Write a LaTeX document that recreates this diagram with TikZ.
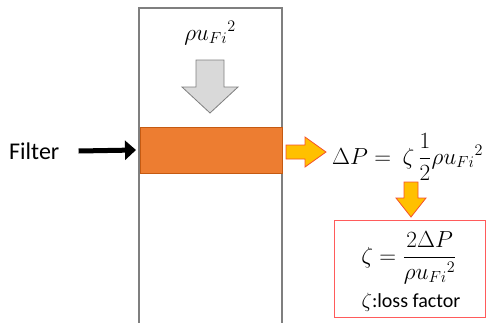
\documentclass[tikz,border=0pt]{standalone}
\usepackage{amsmath}
\usepackage{graphicx}
\usepackage{fontspec}
\setmainfont{Carlito}
\usetikzlibrary{arrows.meta}
\definecolor{chan}{HTML}{7F7F7F}
\definecolor{filt}{HTML}{ED7D31}
\definecolor{filtb}{HTML}{C55A11}
\definecolor{gold}{HTML}{FFC000}
\definecolor{goldb}{HTML}{F4512C}
\definecolor{grayf}{HTML}{D9D9D9}
\definecolor{boxr}{HTML}{FF5B5B}
\newcommand{\mathup}[1]{\scalebox{1.12}{#1}}
\tikzset{
  chanline/.style={draw=chan,line width=1.6pt},
  filterbox/.style={rectangle,fill=filt,draw=filtb,line width=0.6pt,minimum width=142pt,minimum height=46pt,inner sep=0pt},
  grayarrow/.style={fill=grayf,draw=chan,line width=0.8pt},
  goldarrow/.style={fill=gold,draw=goldb,line width=0.8pt},
  resultbox/.style={rectangle,draw=boxr,line width=1pt,minimum width=151pt,minimum height=97pt,inner sep=0pt},
  lbl/.style={inner sep=0pt,font=\fontsize{24}{28}\selectfont},
  mathlbl/.style={inner sep=0pt,font=\fontsize{20}{24}\selectfont}
}
\begin{document}
\begin{tikzpicture}[x=1pt,y=-1pt]
\useasboundingbox (0,0) rectangle (486,322);
% channel
\draw[chanline] (139,323) -- (139,8) -- (282,8) -- (282,323);
% filter
\node[filterbox] (filter) at (211,150) {};
% top label
\node[mathlbl] (flow) at (210,33) {\mathup{$\rho {u_{Fi}}^{2}$}};
% gray down arrow
\draw[grayarrow] (196,60) -- (224,60) -- (224,87) -- (238,87) -- (210,113) -- (182,87) -- (196,87) -- cycle;
% Filter label
\node[lbl,anchor=west] (flabel) at (9,151) {Filter};
\draw[line width=5pt,-{Triangle[length=11pt,width=19pt]}] (flabel.east) ++(19,0) coordinate (fa) (fa) -- (filter.west -| 136,0);
% orange right arrow
\draw[goldarrow] (286,145) -- (305,145) -- (305,137) -- (326,152) -- (305,167) -- (305,159) -- (286,159) -- cycle;
% equation
\node[mathlbl,anchor=west] (eq) at (332,157) {\mathup{$\Delta P =\ \zeta\,\dfrac{1}{2}\rho {u_{Fi}}^{2}$}};
% orange down arrow
\draw[goldarrow] (404,182) -- (418,182) -- (418,198) -- (426,198) -- (411,217) -- (396,198) -- (404,198) -- cycle;
% result box
\node[resultbox] (res) at (409.5,268.5) {};
\node[mathlbl] (zeta) at (409,258) {\mathup{$\zeta = \dfrac{2\Delta P}{\rho {u_{Fi}}^{2}}$}};
\node[inner sep=0pt,font=\fontsize{20}{24}\selectfont] (loss) at (411,302) {$\zeta$:loss factor};
\end{tikzpicture}
\end{document}
